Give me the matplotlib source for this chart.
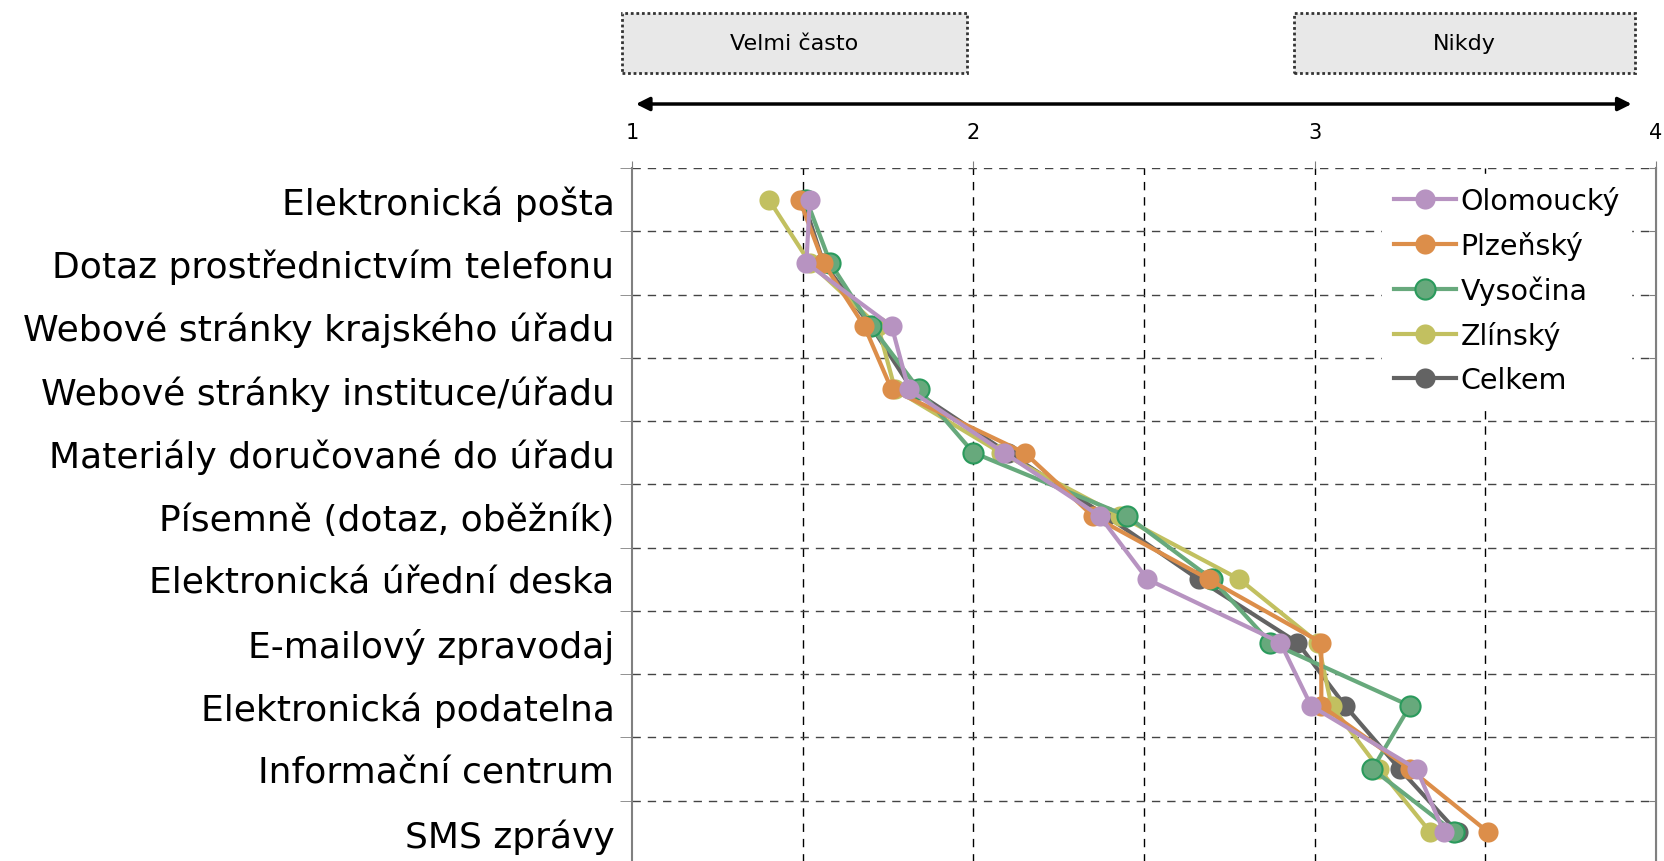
import matplotlib.pyplot as plt
from matplotlib.patches import FancyBboxPatch
from matplotlib.ticker import FixedLocator

# categories (top to bottom)
categories = ['Elektronická pošta', 'Dotaz prostřednictvím telefonu',
              'Webové stránky krajského úřadu', 'Webové stránky instituce/úřadu',
              'Materiály doručované do úřadu', 'Písemně (dotaz, oběžník)',
              'Elektronická úřední deska', 'E-mailový zpravodaj',
              'Elektronická podatelna', 'Informační centrum', 'SMS zprávy']

olomoucky = [1.52, 1.51, 1.76, 1.81, 2.09, 2.37, 2.51, 2.90, 2.99, 3.30, 3.38]
plzensky = [1.49, 1.56, 1.68, 1.76, 2.15, 2.35, 2.69, 3.02, 3.02, 3.28, 3.51]
vysocina = [1.51, 1.58, 1.70, 1.84, 2.00, 2.45, 2.70, 2.87, 3.28, 3.17, 3.41]
zlinsky = [1.40, 1.52, 1.72, 1.77, 2.08, 2.43, 2.78, 3.01, 3.05, 3.19, 3.34]
celkem = [1.50, 1.56, 1.70, 1.82, 2.10, 2.39, 2.66, 2.95, 3.09, 3.25, 3.42]

top_ticks = [1, 2, 3, 4]
scale_labels = ['Velmi často', 'Nikdy']

fig = plt.figure(figsize=(16.64, 8.62), dpi=100)
ax = fig.add_axes([0.3801, -0.0035, 0.6148, 0.8074])

y = list(range(len(categories)))

# draw order: Celkem at bottom, Olomoucký on top
series = [
    ('Celkem', celkem, '#636363', '#636363'),
    ('Zlínský', zlinsky, '#c2c060', '#c2c060'),
    ('Vysočina', vysocina, '#67a97c', '#2a9a5c'),
    ('Plzeňský', plzensky, '#dc8e4a', '#dc8e4a'),
    ('Olomoucký', olomoucky, '#b793c1', '#b793c1'),
]
handles = {}
for name, vals, col, edge in series:
    h, = ax.plot(vals, y, color=col, lw=3, marker='o', markersize=14.5,
                 markerfacecolor=col, markeredgecolor=edge,
                 markeredgewidth=1.5 if name == 'Vysočina' else 0,
                 label=name, zorder=3)
    handles[name] = h

ax.set_xlim(1, 4)
ax.set_ylim(len(categories) - 0.5, -0.5)

# x axis on top
ax.xaxis.tick_top()
ax.set_xticks(top_ticks)
ax.set_xticklabels([str(t) for t in top_ticks])
ax.tick_params(axis='x', which='major', labelsize=15, length=5, pad=14,
               color='#808080')

# y labels, ticks at category boundaries
ax.set_yticks(y)
ax.set_yticklabels(categories, fontsize=26)
ax.tick_params(axis='y', which='major', length=0, pad=13)
ax.yaxis.set_minor_locator(FixedLocator([i - 0.5 for i in range(len(categories) + 1)]))
ax.tick_params(axis='y', which='minor', length=9, color='#808080', direction='out')

# grid
for gx in [1.5, 2, 2.5, 3, 3.5]:
    ax.axvline(gx, color='black', lw=1, ls=(0, (6, 5)), zorder=1)
for gy in [i - 0.5 for i in range(len(categories) + 1)]:
    ax.axhline(gy, color='#444444', lw=1, ls=(0, (6, 5)), zorder=1)

for side in ['left', 'right']:
    ax.spines[side].set_color('#808080')
    ax.spines[side].set_linewidth(1.5)
ax.spines['top'].set_visible(False)
ax.spines['bottom'].set_visible(False)

sec = ax.secondary_yaxis('right')
sec.set_yticks([i - 0.5 for i in range(len(categories) + 1)])
sec.set_yticklabels([])
sec.tick_params(direction='in', length=5, color='#808080')
sec.spines['right'].set_color('#808080')

order = ['Olomoucký', 'Plzeňský', 'Vysočina', 'Zlínský', 'Celkem']
leg = ax.legend([handles[n] for n in order], order, loc='upper right',
                bbox_to_anchor=(0.982, 0.999),
                fontsize=20.5, frameon=True, fancybox=False, edgecolor='white',
                framealpha=1, handlelength=2.2, handletextpad=0.15,
                labelspacing=0.56, borderaxespad=0.2)
leg.set_zorder(5)

# double arrow and scale boxes above the axes
trans = ax.get_xaxis_transform()
ax.annotate('', xy=(1.01, 1.092), xytext=(3.93, 1.092), xycoords=trans,
            textcoords=trans,
            arrowprops=dict(arrowstyle='<|-|>', color='black', lw=2.5,
                            mutation_scale=20, shrinkA=0, shrinkB=0),
            annotation_clip=False)

for (x0, x1), lab in zip([(0.97, 1.98), (2.94, 3.94)], scale_labels):
    box = FancyBboxPatch((x0, 1.137), x1 - x0, 0.086, boxstyle='square,pad=0',
                         transform=trans, facecolor='#e8e8e8', edgecolor='#333333',
                         lw=2, ls=(0, (1, 1)), clip_on=False)
    ax.add_patch(box)
    ax.text((x0 + x1) / 2, 1.18, lab, transform=trans, ha='center', va='center',
            fontsize=16)

fig.savefig('out.png', dpi=100)
